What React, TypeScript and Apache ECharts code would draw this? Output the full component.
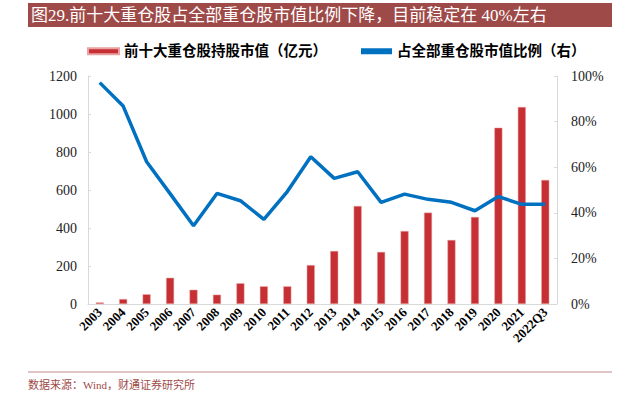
import React, { useEffect, useRef } from "react";
import * as echarts from "echarts";

const categories = ["2003","2004","2005","2006","2007","2008","2009","2010","2011","2012","2013","2014","2015","2016","2017","2018","2019","2020","2021","2022Q3"];
const marketValue = [8, 26, 51, 138, 75, 49, 109, 93, 93, 205, 279, 516, 274, 384, 481, 337, 458, 928, 1037, 653];
const shareRatio = [97.1, 86.8, 62.4, 48.4, 34.3, 48.5, 45.3, 37.1, 49.3, 64.6, 55.1, 58.0, 44.6, 48.2, 45.9, 44.6, 40.9, 47.1, 43.7, 43.7];
const leftTicks = [0, 200, 400, 600, 800, 1000, 1200];
const rightTicks = [0, 20, 40, 60, 80, 100];
const titleText = "图29.前十大重仓股占全部重仓股市值比例下降，目前稳定在 40%左右";
const sourceText = "数据来源：Wind，财通证券研究所";
const barName = "前十大重仓股持股市值（亿元）";
const lineName = "占全部重仓股市值比例（右）";

const serif = '"Liberation Serif", "Noto Sans CJK SC", serif';

export default function App() {
  const ref = useRef<HTMLDivElement>(null);
  useEffect(() => {
    const chart = echarts.init(ref.current!, null, { renderer: "svg" });
    chart.setOption({
      animation: false,
      backgroundColor: "#ffffff",
      graphic: [
        { type: "rect", shape: { x: 28, y: 3, width: 584, height: 24 }, style: { fill: "#9E4A48" } },
        { type: "text", x: 31, y: 15, style: { text: titleText, fill: "#ffffff", font: '17px ' + serif, verticalAlign: "middle" } },
        { type: "line", shape: { x1: 28, y1: 372, x2: 612, y2: 372 }, style: { stroke: "#C08A88", lineWidth: 1 } },
        { type: "text", x: 28, y: 385, style: { text: sourceText, fill: "#9E4A48", font: '11px ' + serif, verticalAlign: "middle" } },
      ],
      legend: {
        top: 39,
        left: 82,
        itemGap: 34,
        itemWidth: 31,
        itemHeight: 6,
        textStyle: { fontSize: 14.5, fontWeight: "bold", color: "#000", fontFamily: serif },
        data: [
          { name: barName, icon: "rect" },
          { name: lineName, icon: "rect", itemStyle: { color: "#0070C0" } },
        ],
      },
      grid: { left: 88, right: 82, top: 76, bottom: 95, containLabel: false },
      xAxis: {
        type: "category",
        data: categories,
        axisLine: { lineStyle: { color: "#D9D9D9", width: 1 } },
        axisTick: { show: false },
        axisLabel: { rotate: 45, interval: 0, fontFamily: serif, fontWeight: "bold", fontSize: 13, color: "#000", margin: 6 },
      },
      yAxis: [
        {
          type: "value",
          min: 0,
          max: 1200,
          interval: 200,
          axisLine: { show: true, lineStyle: { color: "#D9D9D9" } },
          axisTick: { show: true, inside: true, length: 3, lineStyle: { color: "#D9D9D9" } },
          splitLine: { show: false },
          axisLabel: { fontFamily: serif, fontSize: 14, color: "#222", margin: 11, formatter: (v: number) => String(v) },
        },
        {
          type: "value",
          min: 0,
          max: 100,
          interval: 20,
          axisLine: { show: true, lineStyle: { color: "#D9D9D9" } },
          axisTick: { show: true, inside: true, length: 3, lineStyle: { color: "#D9D9D9" } },
          splitLine: { show: false },
          axisLabel: { fontFamily: serif, fontSize: 14, color: "#222", margin: 14, formatter: "{value}%" },
        },
      ],
      series: [
        {
          name: barName,
          type: "bar",
          data: marketValue,
          barWidth: 8,
          itemStyle: { color: "#C62F33", borderColor: "#E9A2A2", borderWidth: 0.5 },
        },
        {
          name: lineName,
          type: "line",
          yAxisIndex: 1,
          data: shareRatio,
          symbol: "none",
          lineStyle: { color: "#0070C0", width: 3.5 },
          itemStyle: { color: "#0070C0" },
        },
      ],
    });
    return () => chart.dispose();
  }, []);
  return <div ref={ref} style={{ width: 639, height: 399, position: "absolute", left: 0, top: 0 }} />;
}
